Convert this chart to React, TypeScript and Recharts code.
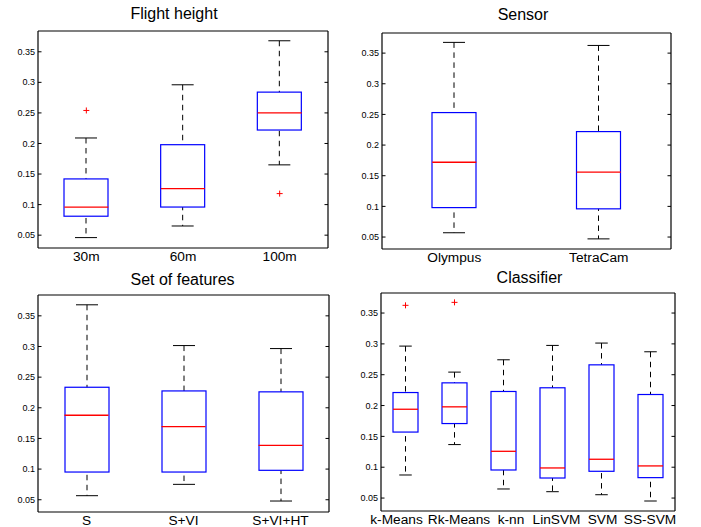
import { ComposedChart, Bar, Scatter, XAxis, YAxis } from 'recharts';

const yTicks = [0.05, 0.1, 0.15, 0.2, 0.25, 0.3, 0.35];

// Flight height
const flightCats = ['30m', '60m', '100m'];
const flightMin = [0.046, 0.065, 0.165];
const flightQ1 = [0.081, 0.096, 0.222];
const flightMed = [0.096, 0.126, 0.25];
const flightQ3 = [0.142, 0.198, 0.284];
const flightMax = [0.209, 0.296, 0.368];
const flightOut = [0.254, null, 0.118];

// Sensor
const sensorCats = ['Olympus', 'TetraCam'];
const sensorMin = [0.057, 0.047];
const sensorQ1 = [0.098, 0.096];
const sensorMed = [0.172, 0.156];
const sensorQ3 = [0.253, 0.222];
const sensorMax = [0.3675, 0.3625];
const sensorOut = [null, null];

// Set of features
const featCats = ['S', 'S+VI', 'S+VI+HT'];
const featMin = [0.0566, 0.0751, 0.0479];
const featQ1 = [0.0952, 0.0952, 0.098];
const featMed = [0.1878, 0.1693, 0.1388];
const featQ3 = [0.2335, 0.2275, 0.226];
const featMax = [0.368, 0.3015, 0.2966];
const featOut = [null, null, null];

// Classifier
const clsCats = ['k-Means', 'Rk-Means', 'k-nn', 'LinSVM', 'SVM', 'SS-SVM'];
const clsMin = [0.0874, 0.1367, 0.0647, 0.0603, 0.0554, 0.0452];
const clsQ1 = [0.157, 0.1708, 0.0955, 0.0825, 0.0934, 0.0831];
const clsMed = [0.194, 0.1979, 0.1258, 0.0988, 0.1129, 0.1021];
const clsQ3 = [0.2211, 0.2368, 0.2228, 0.2288, 0.266, 0.2179];
const clsMax = [0.2964, 0.2542, 0.2742, 0.2975, 0.3013, 0.2872];
const clsOut = [0.3625, 0.3673, null, null, null, null];

function toRows(cats: string[], lo: number[], q1: number[], med: number[], q3: number[], hi: number[], out: (number | null)[]) {
  return cats.map((name, i) => ({
    name,
    whisker: [lo[i], hi[i]],
    box: [q1[i], q3[i]],
    med: med[i],
    out: out[i],
  }));
}

const FONT = '"Liberation Sans", Arial, Helvetica, sans-serif';
const AX = 40;
const PAD = 2;
const XH = 22;

const LeftTick = (p: any) => (
  <g>
    <line x1={p.x + 3} x2={p.x + 6.5} y1={p.y} y2={p.y} stroke="#000" strokeWidth={1} />
    <text x={p.x} y={p.y} dy="0.35em" textAnchor="end" fontSize={9} fill="#000">
      {String(p.payload.value)}
    </text>
  </g>
);

const EmptyTick = () => <g />;

const makeXTick = (shift?: number[]) => (p: any) => (
  <text x={p.x + (shift ? shift[p.index] || 0 : 0)} y={p.y} dy="0.71em" textAnchor="middle" fontSize={13.7} fill="#000">
    {p.payload.value}
  </text>
);

type PanelProps = {
  title: string;
  titleX: number;
  titleBase: number;
  data: any[];
  domain: [number, number];
  left: number;
  top: number;
  right: number;
  bottom: number;
  bw: number;
  shift?: number[];
};

function BoxPanel({ title, titleX, titleBase, data, domain, left, top, right, bottom, bw, shift }: PanelProps) {
  const w = right - left + AX + PAD;
  const h = bottom - top + PAD + XH;
  const frame = { stroke: '#000', strokeWidth: 1.2 };

  const whiskerShape = (p: any) => {
    const cx = p.x + p.width / 2;
    const y1 = Math.min(p.y, p.y + p.height);
    const y2 = Math.max(p.y, p.y + p.height);
    const c = bw / 4;
    return (
      <g>
        <line x1={cx} x2={cx} y1={y1} y2={y2} stroke="#000" strokeWidth={1} strokeDasharray="5.5 4.5" />
        <line x1={cx - c} x2={cx + c} y1={y1} y2={y1} stroke="#000" strokeWidth={1} />
        <line x1={cx - c} x2={cx + c} y1={y2} y2={y2} stroke="#000" strokeWidth={1} />
      </g>
    );
  };

  const boxShape = (p: any) => {
    const y1 = Math.min(p.y, p.y + p.height);
    return <rect x={p.x} y={y1} width={p.width} height={Math.abs(p.height)} fill="#fff" stroke="#0000ff" strokeWidth={1.2} />;
  };

  const medShape = (p: any) => (
    <line x1={p.cx - bw / 2} x2={p.cx + bw / 2} y1={p.cy} y2={p.cy} stroke="#ff0000" strokeWidth={1.3} />
  );

  const outShape = (p: any) => {
    if (p.payload == null || p.payload.out == null || p.cy == null) return <g />;
    return (
      <g stroke="#ff0000" strokeWidth={1}>
        <line x1={p.cx - 3} x2={p.cx + 3} y1={p.cy} y2={p.cy} />
        <line x1={p.cx} x2={p.cx} y1={p.cy - 3} y2={p.cy + 3} />
      </g>
    );
  };

  return (
    <>
      <div
        style={{
          position: 'absolute',
          left: titleX - 120,
          top: titleBase - 13.5,
          width: 240,
          textAlign: 'center',
          fontSize: 16,
          lineHeight: '16px',
          color: '#000',
        }}
      >
        {title}
      </div>
      <div style={{ position: 'absolute', left: left - AX, top: top - PAD }}>
        <ComposedChart width={w} height={h} data={data} margin={{ top: PAD, right: PAD, left: 0, bottom: 0 }} barGap={-bw}>
          <XAxis
            dataKey="name"
            height={XH}
            interval={0}
            tickSize={0}
            tickMargin={3}
            tickLine={false}
            axisLine={frame}
            tick={makeXTick(shift)}
          />
          <XAxis xAxisId="top" orientation="top" mirror dataKey="name" tick={false} tickLine={false} axisLine={frame} />
          <YAxis
            domain={domain}
            ticks={yTicks}
            width={AX}
            tickSize={0}
            tickMargin={3}
            tickLine={false}
            axisLine={frame}
            tick={LeftTick}
            allowDataOverflow
          />
          <YAxis
            yAxisId="right"
            orientation="right"
            mirror
            domain={domain}
            ticks={yTicks}
            tickSize={3.5}
            tickLine={{ stroke: '#000', strokeWidth: 1 }}
            axisLine={frame}
            tick={EmptyTick}
            allowDataOverflow
          />
          <Bar dataKey="whisker" barSize={bw} shape={whiskerShape} isAnimationActive={false} />
          <Bar dataKey="box" barSize={bw} shape={boxShape} isAnimationActive={false} />
          <Scatter dataKey="med" shape={medShape} isAnimationActive={false} />
          <Scatter dataKey="out" shape={outShape} isAnimationActive={false} />
        </ComposedChart>
      </div>
    </>
  );
}

export default function App() {
  const flight = toRows(flightCats, flightMin, flightQ1, flightMed, flightQ3, flightMax, flightOut);
  const sensor = toRows(sensorCats, sensorMin, sensorQ1, sensorMed, sensorQ3, sensorMax, sensorOut);
  const feat = toRows(featCats, featMin, featQ1, featMed, featQ3, featMax, featOut);
  const cls = toRows(clsCats, clsMin, clsQ1, clsMed, clsQ3, clsMax, clsOut);

  return (
    <div
      style={{
        position: 'absolute',
        left: 0,
        top: 0,
        width: 701,
        height: 527,
        background: '#fff',
        fontFamily: FONT,
        overflow: 'hidden',
      }}
    >
      <BoxPanel title="Flight height" titleX={174} titleBase={19} data={flight} domain={[0.029, 0.384]} left={38} top={31} right={328} bottom={248} bw={44} />
      <BoxPanel title="Sensor" titleX={523} titleBase={20.7} data={sensor} domain={[0.0305, 0.3828]} left={382} top={33} right={671} bottom={249} bw={44} />
      <BoxPanel title="Set of features" titleX={182.5} titleBase={285.5} data={feat} domain={[0.03, 0.384]} left={38} top={295} right={329} bottom={512} bw={44} />
      <BoxPanel
        title="Classifier"
        titleX={529.5}
        titleBase={283}
        data={cls}
        domain={[0.029, 0.3825]}
        left={381}
        top={293}
        right={675}
        bottom={511}
        bw={25}
        shift={[-9, 4.5, 7.5, 4, 1, -0.5]}
      />
    </div>
  );
}
